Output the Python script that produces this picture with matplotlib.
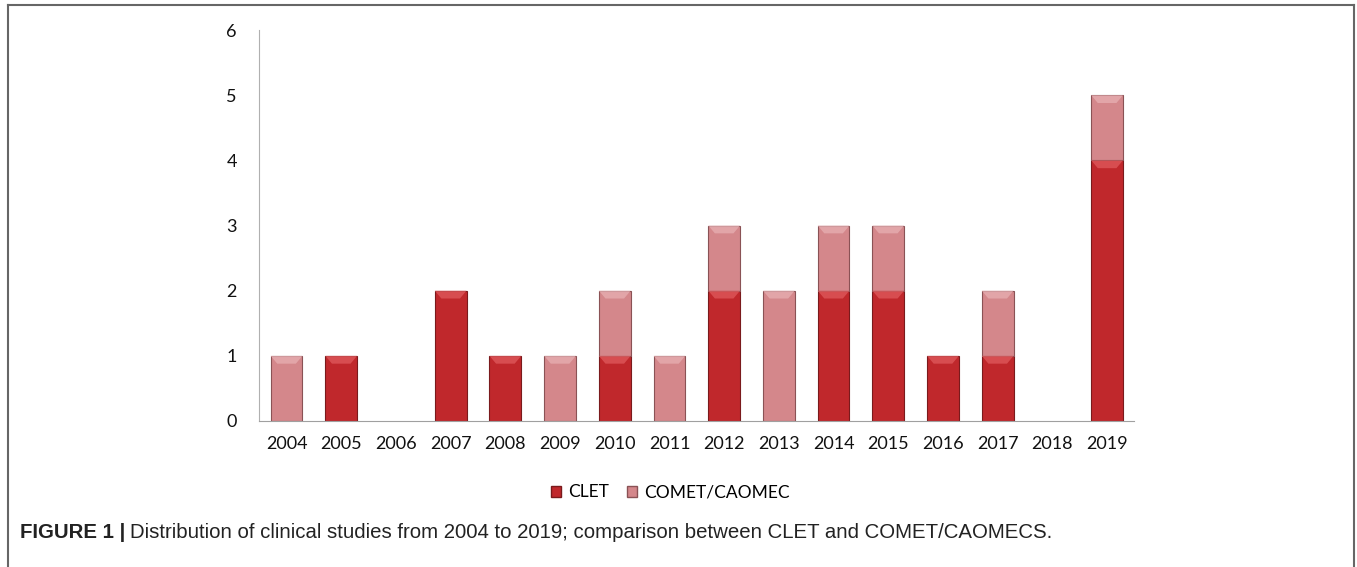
import matplotlib
matplotlib.use('Agg')
import matplotlib.pyplot as plt
from matplotlib.patches import Polygon
from matplotlib.lines import Line2D
import numpy as np

years = ['2004', '2005', '2006', '2007', '2008', '2009', '2010', '2011',
         '2012', '2013', '2014', '2015', '2016', '2017', '2018', '2019']
clet = [0, 1, 0, 2, 1, 0, 1, 0, 2, 0, 2, 2, 1, 1, 0, 4]
comet = [1, 0, 0, 0, 0, 1, 1, 1, 1, 2, 1, 1, 0, 1, 0, 1]

c_clet = '#c0282c'
c_comet = '#d4878b'

plt.rcParams['font.family'] = ['Lato', 'DejaVu Sans']

fig = plt.figure(figsize=(13.57, 5.67), dpi=100)
ax = fig.add_axes([0.191, 0.2575, 0.645, 0.6895])

x = np.arange(len(years))
b1 = ax.bar(x, clet, width=0.58, color=c_clet, edgecolor='#7a1a1c', linewidth=0.8)
b2 = ax.bar(x, comet, width=0.58, bottom=clet, color=c_comet, edgecolor='#8a5255', linewidth=0.8)


def bevel(bars, light):
    # light top band on each bar, like the 3D style of the original
    for p in bars:
        h = p.get_height()
        if h <= 0:
            p.set_visible(False)
            continue
        x0, y0, w = p.get_x(), p.get_y(), p.get_width()
        top = y0 + h
        d = 0.12
        poly = Polygon([[x0, top], [x0 + w, top], [x0 + w - 0.12, top - d], [x0 + 0.12, top - d]],
                       closed=True, facecolor=light, edgecolor='none', alpha=0.75)
        ax.add_patch(poly)


bevel(b1, '#e05a5d')
bevel(b2, '#e7b0b3')

ax.set_xlim(-0.5, len(years) - 0.5)
ax.set_ylim(0, 6)
ax.set_yticks(range(7))
ax.set_xticks(x)
ax.set_xticklabels(years)
ax.tick_params(length=0, labelsize=13, colors='#111111')
ax.tick_params(axis='y', pad=16)
ax.tick_params(axis='x', pad=11)
for s in ['top', 'right']:
    ax.spines[s].set_visible(False)
ax.spines['left'].set_color('#b0b0b0')
ax.spines['bottom'].set_color('#a0a0a0')

handles = [plt.Rectangle((0, 0), 1, 1, facecolor=c_clet, edgecolor='#7a1a1c'),
           plt.Rectangle((0, 0), 1, 1, facecolor=c_comet, edgecolor='#8a5255')]
fig.legend(handles, ['CLET', 'COMET/CAOMEC'], loc='center', bbox_to_anchor=(0.494, 0.132),
           ncol=2, frameon=False, fontsize=12.5, handlelength=0.6, handleheight=0.6,
           handletextpad=0.4, columnspacing=1.0)

# frame around figure (open at the bottom)
fig.add_artist(Line2D([0.006, 0.006], [0.0, 0.991], transform=fig.transFigure, color='#666666', lw=1.5))
fig.add_artist(Line2D([0.006, 0.998], [0.991, 0.991], transform=fig.transFigure, color='#666666', lw=1.5))
fig.add_artist(Line2D([0.998, 0.998], [0.0, 0.991], transform=fig.transFigure, color='#666666', lw=1.5))

t1 = fig.text(0.015, 0.06, 'FIGURE 1 |', fontsize=14.7, fontweight='bold',
              family=['Liberation Sans', 'DejaVu Sans'], color='#222222', va='center')
fig.canvas.draw()
bb = t1.get_window_extent().transformed(fig.transFigure.inverted())
fig.text(bb.x1 + 0.003, 0.06,
         'Distribution of clinical studies from 2004 to 2019; comparison between CLET and COMET/CAOMECS.',
         fontsize=14.7, family=['Liberation Sans', 'DejaVu Sans'], color='#222222', va='center')

fig.savefig('out.png', dpi=100)
